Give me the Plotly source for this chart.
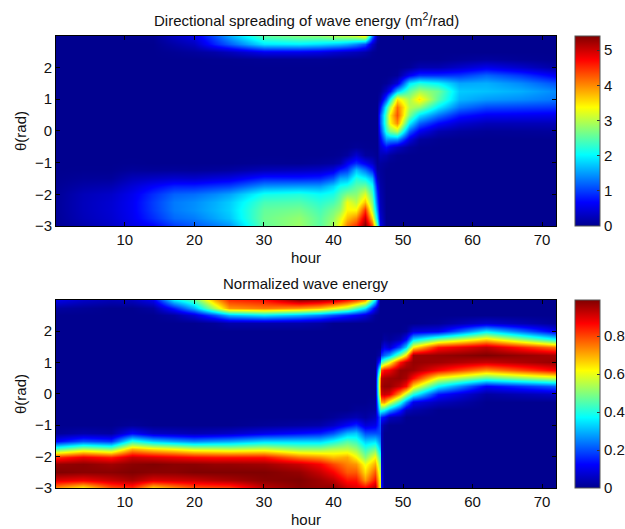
import numpy as np
import plotly.graph_objects as go

theta = [-3,-2.75,-2.5,-2.25,-2,-1.75,-1.5,-1.25,-1,-.75,-.5,-.25,0,.25,.5,.75,1,1.25,1.5,1.75,2,2.25,2.5,2.75,3]

def col(low=(), mid_from=None, mid=(), top=()):
    """One profile over theta: low starts at theta=-3, mid at mid_from, top ends at theta=3."""
    v = [0.0] * len(theta)
    v[:len(low)] = low
    if mid_from is not None:
        i = theta.index(mid_from)
        v[i:i + len(mid)] = mid
    if top:
        v[-len(top):] = top
    return v

hours_energy = [0.1,4,8,11,14,17,20,23,25,30,35,38,40,41,42,43.3,44.5,45.5,46.2,46.65,47.5,48.2,49.2,50.9,52.3,55.1,58,62,67,72]
energy_by_hour = [
 col([.04,.05,.06,.06,.05,.03,.01]),
 col([.17,.25,.27,.27,.25,.15,.06,.01]),
 col([.33,.39,.41,.4,.35,.21,.07,.01]),
 col([.51,.59,.61,.61,.57,.43,.25,.07,.01], top=[.01]),
 col([.65,.9,.98,.99,.9,.65,.32,.06], top=[.03]),
 col([.97,1.23,1.32,1.32,1.19,.84,.38,.07], top=[.03,.15,.3]),
 col([1.13,1.33,1.44,1.42,1.25,.84,.36,.06], top=[.08,.3,.5]),
 col([1.3,1.55,1.63,1.6,1.4,.94,.45,.08], top=[.01,.15,.85,1.1]),
 col([1.44,1.71,1.78,1.75,1.53,1.0,.5,.11], top=[.01,.25,1.15,1.55]),
 col([2.55,2.6,2.55,2.4,2.12,1.45,.82,.25,.03], top=[.03,.55,1.9,2.5]),
 col([2.85,2.8,2.65,2.45,2.2,1.5,.8,.3,.02], top=[.03,.55,1.95,2.7]),
 col([2.5,2.5,2.4,2.25,2.05,1.5,.85,.35,.06], top=[.03,.5,1.85,2.75]),
 col([2.9,2.8,2.65,2.4,2.15,1.8,1.1,.5,.1,.01], top=[.02,.4,1.75,2.9]),
 col([3.4,3.2,2.85,2.65,2.45,2.1,1.55,.85,.2,.03], top=[.01,.35,1.7,2.95]),
 col([4.1,3.7,3.4,3.3,2.7,2.2,1.6,1.0,.6,.1,.01], top=[.01,.3,1.6,3.0]),
 col([4.5,4.0,3.4,3.0,2.75,2.5,2.2,1.7,.9,.4,.05], top=[.01,.25,1.4,3.1]),
 col([5.4,5.0,4.5,3.7,3.2,2.6,2.0,1.3,.6,.1,.02], top=[.15,1.1,3.4]),
 col([4.4,3.6,3.0,2.7,2.4,2.1,1.6,.85,.35,.07,.01], top=[.03,.35,1.3]),
 col([2.5,1.8,1.4,1.1,.9,.65,.3,.1,.03,.01], top=[.03,.2]),
 col([.6,.4,.3,.25,.2,.15,.1,.07,.1,.25,.4,.6,.9,1.1,1.1,.7,.2,.03]),
 col(mid_from=-1, mid=[.05,.2,.7,1.5,2.2,2.5,2.5,2.1,1.1,.35,.05]),
 col(mid_from=-1, mid=[.01,.1,.5,1.5,2.7,3.4,3.5,3.0,2.0,.7,.15,.01]),
 col(mid_from=-.75, mid=[.02,.3,1.5,3.0,4.0,4.3,4.15,3.5,1.7,.45,.05]),
 col(mid_from=-.5, mid=[.08,.5,1.2,2.0,2.7,3.0,2.9,2.5,1.9,.6,.05]),
 col(mid_from=-.5, mid=[.01,.1,.6,1.2,1.9,2.8,3.5,2.9,2.2,.9,.2,.01]),
 col(mid_from=-.25, mid=[.02,.2,.7,1.3,1.95,2.5,2.6,2.0,.9,.2,.01]),
 col(mid_from=0, mid=[.1,.4,.8,1.3,1.65,1.75,1.55,.95,.35,.05]),
 col(mid_from=0, mid=[.05,.25,.6,1.05,1.5,1.7,1.6,1.2,.55,.1]),
 col(mid_from=0, mid=[.06,.25,.58,1.0,1.42,1.6,1.4,.95,.35,.04]),
 col(mid_from=0, mid=[.08,.25,.55,.95,1.3,1.4,1.1,.6,.12,.01]),
]

hours_norm = [0.1,4,8,11,14,17,20,23,25,30,35,38,40,42,43.3,44.5,46,46.65,46.9,47.3,48,49.6,50.5,51.5,55,62,72]
norm_by_hour = [
 col([.72,.9,.99,.97,.82,.45,.12,.01], top=[.02,.1]),
 col([.62,.88,.98,.98,.88,.55,.2,.03], top=[.01,.06]),
 col([.78,.92,.98,.96,.84,.5,.17,.02], top=[.04]),
 col([.82,.95,.99,.98,.92,.7,.4,.12,.01], top=[.05]),
 col([.65,.9,.98,.99,.9,.65,.32,.06], top=[.02,.1]),
 col([.72,.91,.98,.98,.88,.62,.28,.05], top=[.02,.15,.35]),
 col([.78,.92,.99,.98,.86,.58,.25,.04], top=[.08,.3,.45]),
 col([.79,.94,.99,.97,.85,.57,.27,.05], top=[.01,.2,.55,.7]),
 col([.8,.95,.99,.97,.85,.56,.28,.06], top=[.03,.3,.72,.82]),
 col([.93,.98,.99,.96,.85,.58,.33,.1,.01], top=[.03,.35,.75,.85]),
 col([.98,.99,.97,.92,.75,.52,.33,.13,.02], top=[.03,.3,.72,.97]),
 col([.97,.96,.92,.87,.72,.52,.33,.15,.03], top=[.02,.25,.68,.95]),
 col([.98,.93,.87,.8,.68,.55,.38,.2,.06,.01], top=[.2,.62,.92]),
 col([.92,.85,.78,.74,.7,.56,.45,.3,.12,.03], top=[.15,.55,.85]),
 col([.9,.85,.78,.72,.62,.52,.42,.32,.16,.04,.01], top=[.12,.45,.8]),
 col([.88,.72,.65,.6,.5,.42,.32,.2,.08,.02,.01], top=[.08,.35,.72]),
 col([.95,.85,.78,.7,.62,.48,.34,.2,.1,.05,.02,.01], top=[.01,.1,.35]),
 col([.6,.6,.55,.5,.42,.32,.25,.2,.2,.22,.4,.55,.7,.75,.72,.5,.2,.03]),
 col([.15,.12,.1,.08,.06,.05,.05,.05,.06,.15,.4,.7,.9,.95,.93,.8,.42,.17,.05]),
 col(mid_from=-1, mid=[.02,.12,.37,.72,.92,.97,.95,.86,.5,.22,.1,.02]),
 col(mid_from=-.75, mid=[.05,.28,.6,.9,.97,.96,.88,.6,.28,.07,.01]),
 col(mid_from=-.75, mid=[.03,.15,.4,.7,.92,.97,.97,.85,.5,.2,.04]),
 col(mid_from=-.5, mid=[.05,.25,.55,.86,.95,.97,.93,.65,.33,.12,.01]),
 col(mid_from=-.5, mid=[.03,.1,.4,.65,.86,.96,.97,.96,.63,.33,.08]),
 col(mid_from=-.25, mid=[.05,.14,.37,.6,.87,.96,.97,.85,.48,.1,.01]),
 col(mid_from=0, mid=[.02,.12,.45,.72,.92,.99,.93,.65,.35,.07]),
 col(mid_from=0, mid=[.06,.22,.56,.87,.97,.95,.75,.37,.1,.01]),
]

energy_ticks = [0,1,2,3,4,5]
norm_ticks = [0,.2,.4,.6,.8]
x_ticks = [10,20,30,40,50,60,70]
y_ticks = [-3,-2,-1,0,1,2]
title_top = "Directional spreading of wave energy (m<sup>2</sup>/rad)"
title_bottom = "Normalized wave energy"

jet = [[0,"rgb(0,0,143)"],[0.125,"rgb(0,0,255)"],[0.375,"rgb(0,255,255)"],
       [0.625,"rgb(255,255,0)"],[0.875,"rgb(255,0,0)"],[1,"rgb(128,0,0)"]]
W, H = 625, 529
L, R, T, B = 56, 556, 36, 488
PW, PH = R - L, B - T
FONT = dict(family="Liberation Sans, Arial, sans-serif", size=15, color="#111")

def cbar(top, bottom, ticks):
    return dict(x=(575 - L) / PW, xanchor="left", xpad=0, ypad=0, thickness=25, thicknessmode="pixels",
                y=(B - bottom) / PH, yanchor="bottom", len=(bottom - top) / PH, lenmode="fraction",
                tickvals=ticks, ticks="inside", ticklen=3, tickcolor="#333", tickwidth=1,
                outlinecolor="#555", outlinewidth=1, tickfont=FONT)

fig = go.Figure()
fig.add_trace(go.Heatmap(x=hours_energy, y=theta, z=np.array(energy_by_hour).T, zmin=0, zmax=5.4,
                         colorscale=jet, zsmooth="best", colorbar=cbar(36, 226, energy_ticks),
                         xaxis="x", yaxis="y"))
fig.add_trace(go.Heatmap(x=hours_norm, y=theta, z=np.array(norm_by_hour).T, zmin=0, zmax=0.99,
                         colorscale=jet, zsmooth="best", colorbar=cbar(300, 488, norm_ticks),
                         xaxis="x2", yaxis="y2"))

def xa(anchor):
    return dict(domain=[0, 1], range=[0.1, 72], tickvals=x_ticks, anchor=anchor, ticks="inside",
                ticklen=4, tickcolor="black", mirror="ticks", showline=True, linecolor="black", linewidth=1,
                showgrid=False, zeroline=False, tickfont=FONT, automargin=False,
                title=dict(text="hour", font=FONT, standoff=5))
def ya(anchor, top, bottom):
    return dict(domain=[(B - bottom) / PH, (B - top) / PH], range=[-3, 2.99], tickvals=y_ticks, anchor=anchor,
                ticks="inside", ticklen=4, tickcolor="black", mirror="ticks", showline=True, linecolor="black",
                linewidth=1, showgrid=False, zeroline=False, tickfont=FONT, automargin=False,
                title=dict(text="θ(rad)", font=FONT, standoff=4))

fig.update_layout(
    width=W, height=H, margin=dict(l=L, r=W - R, t=T, b=H - B, autoexpand=False),
    paper_bgcolor="white", plot_bgcolor="white", font=FONT,
    xaxis=xa("y"), yaxis=ya("x", 36, 226),
    xaxis2=xa("y2"), yaxis2=ya("x2", 300, 488),
    annotations=[
        dict(text=title_top, xref="paper", yref="paper", x=(306 - L) / PW, y=(B - 19) / PH,
             xanchor="center", yanchor="middle", showarrow=False, font=FONT),
        dict(text=title_bottom, xref="paper", yref="paper", x=(306 - L) / PW, y=(B - 283) / PH,
             xanchor="center", yanchor="middle", showarrow=False, font=FONT),
    ],
)
fig.write_html("out.html", config={"displayModeBar": False}, post_script="document.body.style.margin='0';")
